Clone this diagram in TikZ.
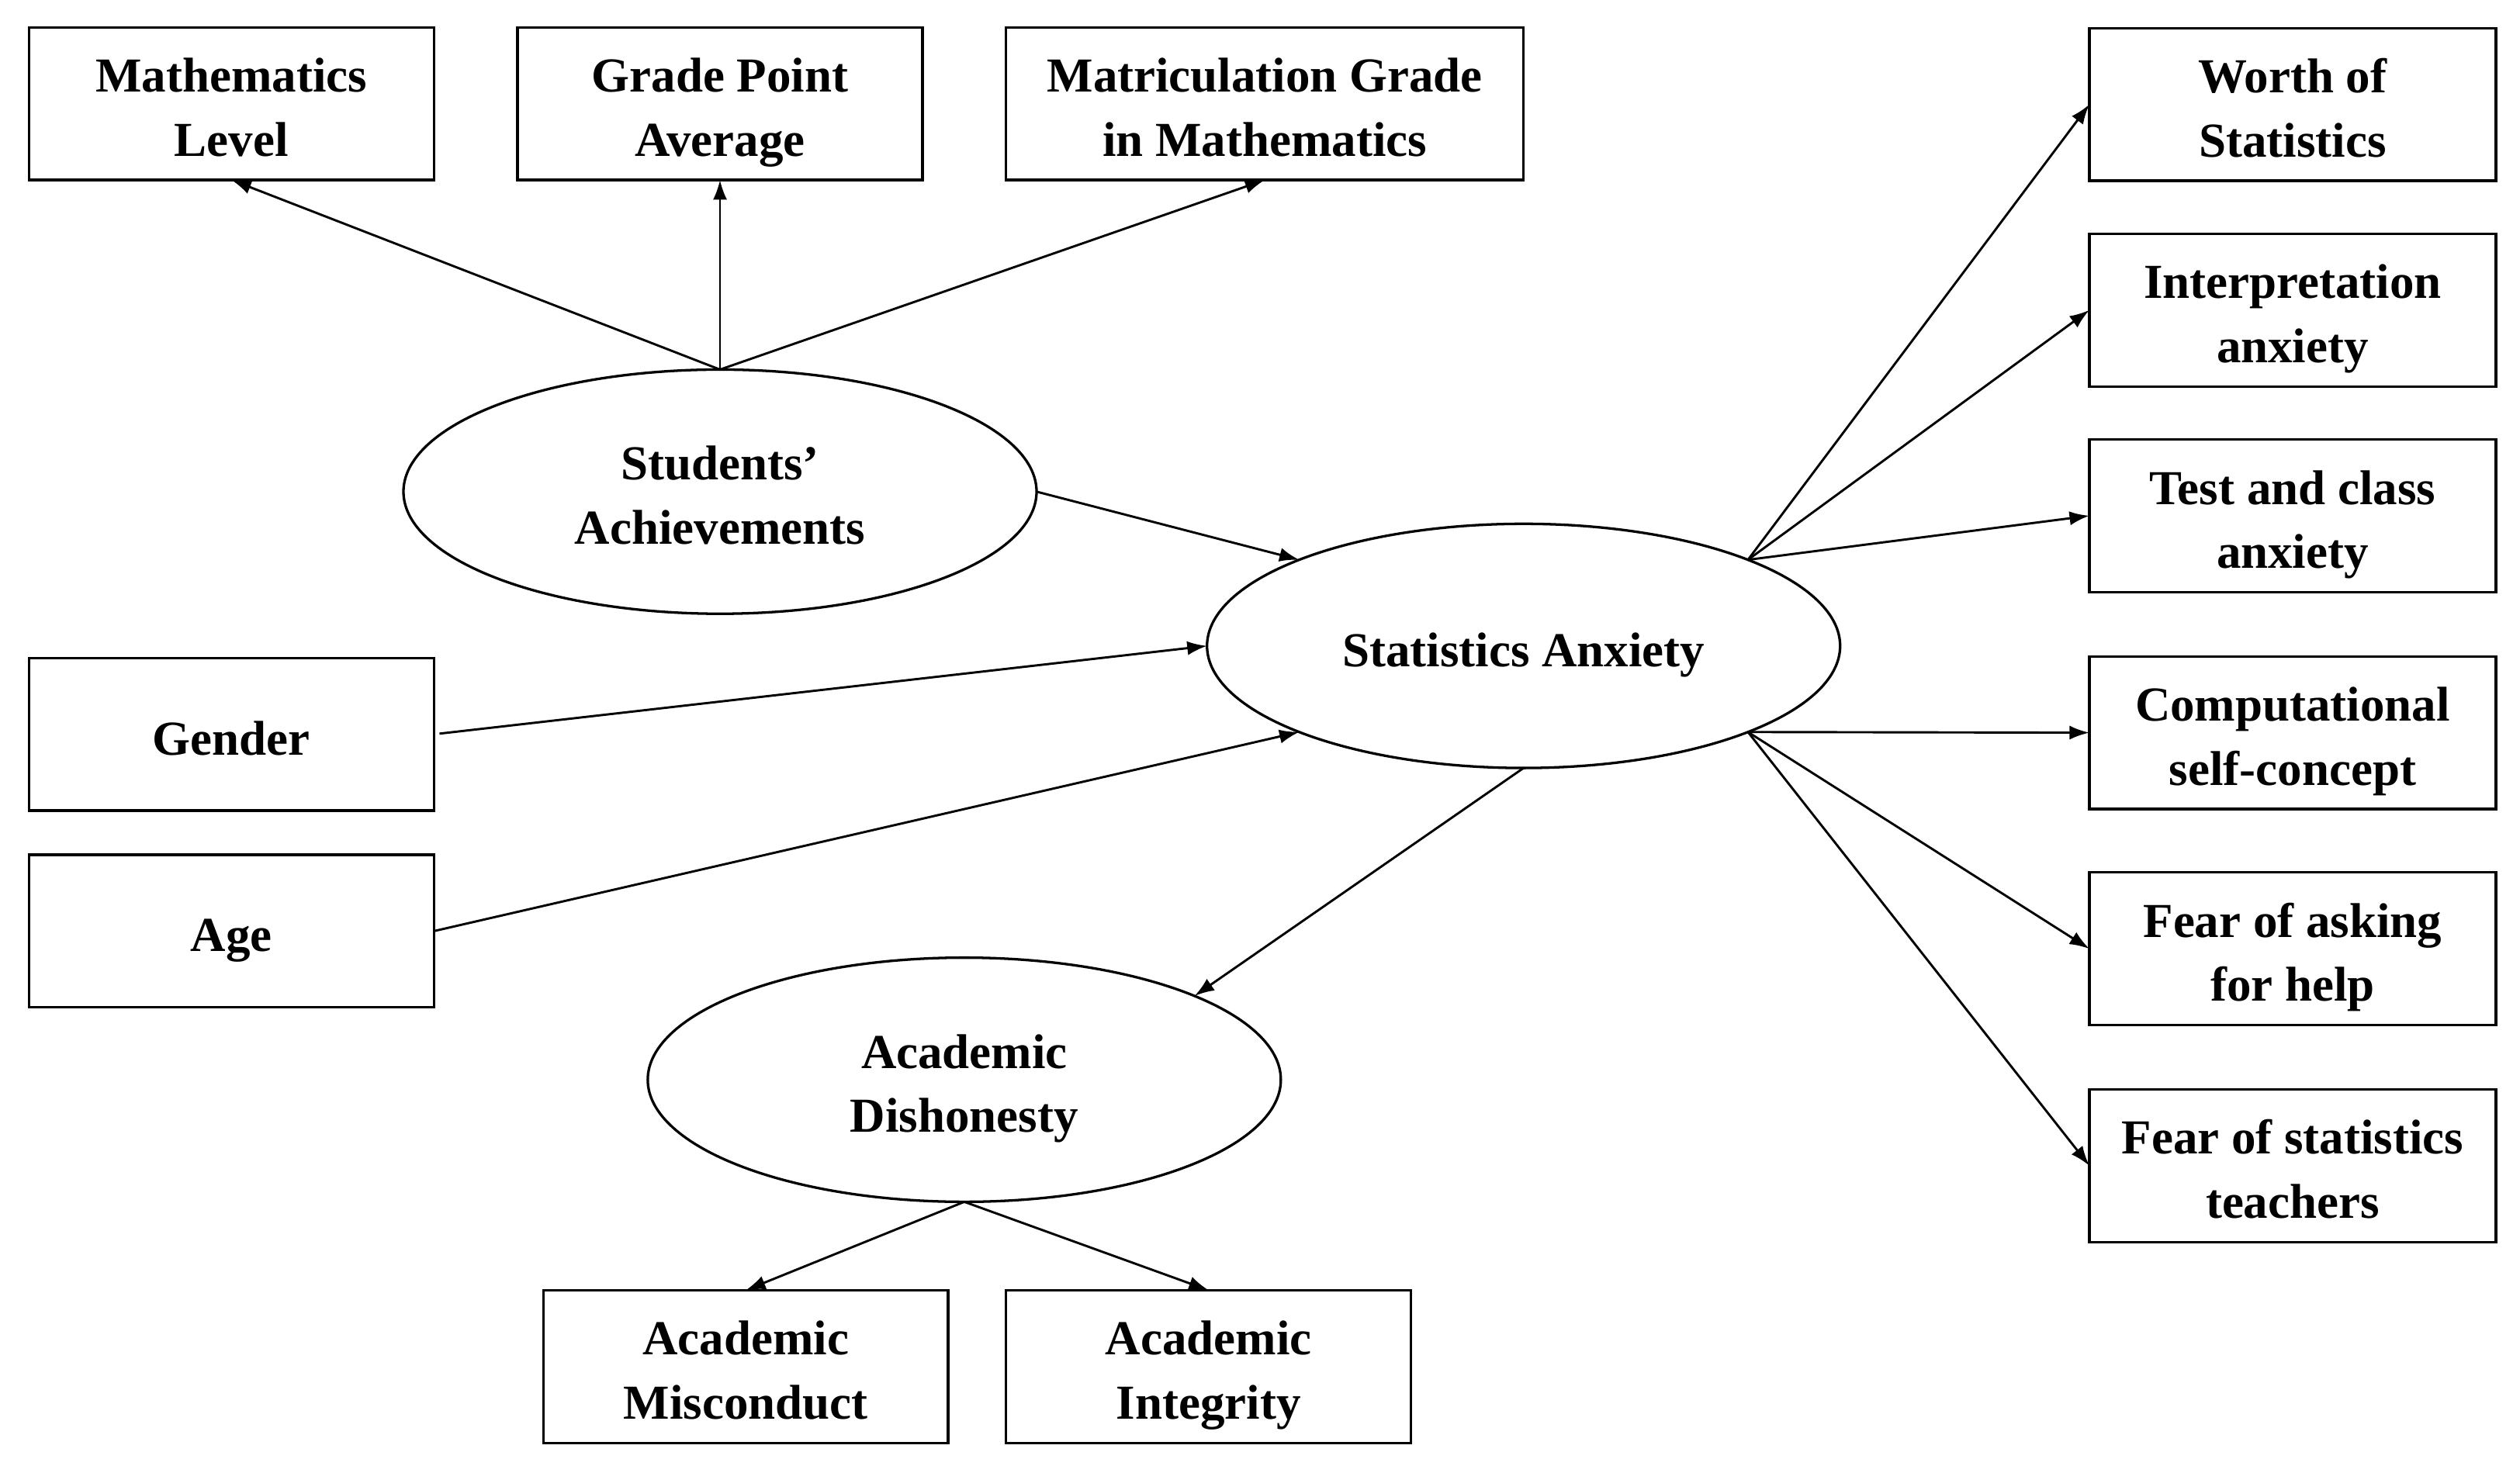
\documentclass[tikz,border=0pt]{standalone}
\usepackage{fontspec}
\setmainfont{Liberation Serif}
\usetikzlibrary{shapes.geometric,arrows.meta}
\newcommand{\ls}{\vrule width 0pt height 18.5pt depth 4pt}
\begin{document}
\begin{tikzpicture}[x=0.02cm,y=-0.02cm,
  every node/.style={font=\fontsize{17.3}{22.7}\selectfont\bfseries, align=center, inner sep=0pt, outer sep=0pt},
  box/.style={draw, line width=0.9pt, minimum width=5.04cm, minimum height=1.9cm},
  latent/.style={draw, ellipse, line width=0.9pt, minimum width=7.88cm, minimum height=3.04cm},
  arr/.style={line width=0.8pt, -{Latex[length=7pt,width=5pt]}}]
\useasboundingbox (0,0) rectangle (1568,912);
% top row
\node[box] (ml) at (144,64.5) {\ls Mathematics\\\ls Level};
\node[box] (gpa) at (448,64.5) {\ls Grade Point\\\ls Average};
\node[box, minimum width=6.44cm] (mgm) at (787,64.5) {\ls Matriculation Grade\\\ls in Mathematics};
% right column
\node[box, minimum width=5.06cm] (worth) at (1426.5,65) {\ls Worth of\\\ls Statistics};
\node[box, minimum width=5.06cm] (interp) at (1426.5,193) {\ls Interpretation\\\ls anxiety};
\node[box, minimum width=5.06cm] (test) at (1426.5,321) {\ls Test and class\\\ls anxiety};
\node[box, minimum width=5.06cm] (comp) at (1426.5,456) {\ls Computational\\\ls self-concept};
\node[box, minimum width=5.06cm] (fask) at (1426.5,590.5) {\ls Fear of asking\\\ls for help};
\node[box, minimum width=5.06cm] (fstat) at (1426.5,725.5) {\ls Fear of statistics\\\ls teachers};
% left
\node[box] (gender) at (144,457) {\ls Gender};
\node[box] (age) at (144,579.5) {\ls Age};
% bottom
\node[box] (misc) at (464,850.5) {\ls Academic\\\ls Misconduct};
\node[box] (integ) at (752,850.5) {\ls Academic\\\ls Integrity};
% latent
\node[latent] (sa) at (448,306) {\ls Students’\\\ls Achievements};
\node[latent] (stat) at (948,402) {\ls Statistics Anxiety};
\node[latent] (ad) at (600,672) {\ls Academic\\\ls Dishonesty};
% arrows
\draw[arr] (sa.north) -- (ml.south);
\draw[arr] (sa.north) -- (gpa.south);
\draw[arr] (sa.north) -- (mgm.south);
\draw[arr] (sa.east) -- (stat.159);
\draw[arr, shorten <=2pt] (gender.east) -- (stat.west);
\draw[arr] (age.east) -- (stat.201);
\draw[arr] (stat.south) -- (ad.20);
\draw[arr] (stat.21.6) -- (worth.west);
\draw[arr] (stat.21.6) -- (interp.west);
\draw[arr] (stat.21.6) -- (test.west);
\draw[arr] (stat.-21.6) -- (comp.west);
\draw[arr] (stat.-21.6) -- (fask.west);
\draw[arr] (stat.-21.6) -- (fstat.west);
\draw[arr] (ad.south) -- (misc.north);
\draw[arr] (ad.south) -- (integ.north);
\end{tikzpicture}
\end{document}
